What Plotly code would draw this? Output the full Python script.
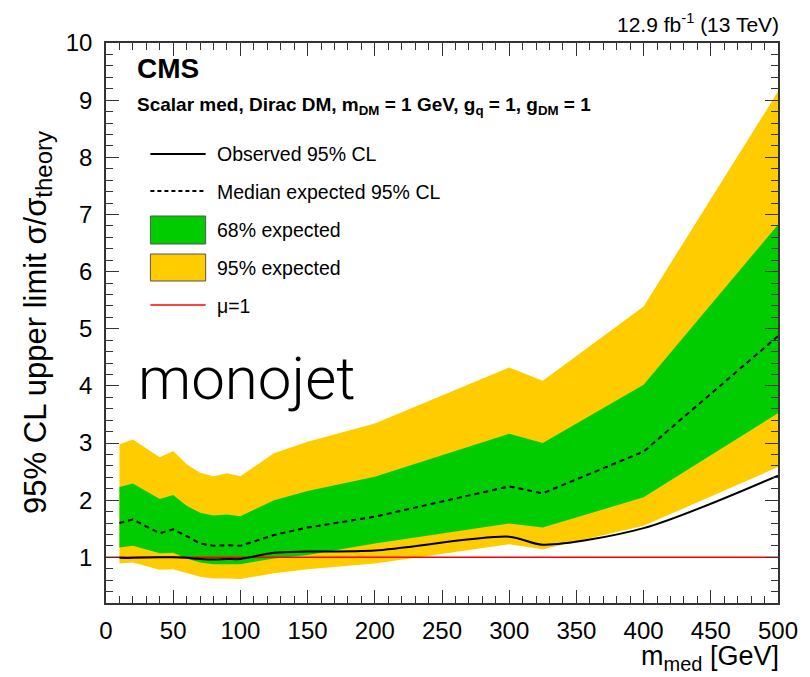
import plotly.graph_objects as go

# ---- data ----
mass = [10, 20, 40, 50, 60, 70, 80, 90, 100, 125, 150, 200, 300, 325, 400, 500]
exp_median = [1.60, 1.66, 1.42, 1.49, 1.37, 1.24, 1.20, 1.21, 1.20, 1.39, 1.52, 1.71, 2.24, 2.12, 2.85, 4.87]
exp_68_up = [2.23, 2.29, 2.02, 2.09, 1.90, 1.78, 1.73, 1.75, 1.72, 2.00, 2.16, 2.41, 3.16, 3.00, 4.02, 6.82]
exp_68_dn = [1.17, 1.20, 1.07, 1.08, 0.98, 0.91, 0.88, 0.88, 0.88, 0.98, 1.04, 1.24, 1.59, 1.52, 2.05, 3.52]
exp_95_up = [2.98, 3.06, 2.75, 2.86, 2.63, 2.48, 2.42, 2.47, 2.42, 2.82, 3.02, 3.34, 4.32, 4.09, 5.39, 9.15]
exp_95_dn = [0.89, 0.91, 0.78, 0.79, 0.72, 0.66, 0.63, 0.63, 0.62, 0.72, 0.79, 0.89, 1.23, 1.14, 1.55, 2.58]
observed = [0.99, 0.99, 1.00, 1.00, 0.99, 0.97, 0.96, 0.97, 0.97, 1.08, 1.10, 1.12, 1.36, 1.22, 1.51, 2.43]
mu_x = [0, 500]
mu_y = [1, 1]

YELLOW = "#FFCC00"
GREEN = "#00CC00"
FONT = "Liberation Sans"

fig = go.Figure()

# 95% band
fig.add_trace(go.Scatter(x=mass + mass[::-1], y=exp_95_up + exp_95_dn[::-1],
                         fill="toself", fillcolor=YELLOW, line=dict(width=0),
                         mode="lines", hoverinfo="skip", showlegend=False))
# 68% band
fig.add_trace(go.Scatter(x=mass + mass[::-1], y=exp_68_up + exp_68_dn[::-1],
                         fill="toself", fillcolor=GREEN, line=dict(width=0),
                         mode="lines", hoverinfo="skip", showlegend=False))
# median expected
fig.add_trace(go.Scatter(x=mass, y=exp_median, mode="lines",
                         line=dict(color="black", width=2, dash="5px,4px"),
                         showlegend=False))
# mu = 1
fig.add_trace(go.Scatter(x=mu_x, y=mu_y, mode="lines",
                         line=dict(color="#FF0000", width=1.6), showlegend=False))
# observed
fig.add_trace(go.Scatter(x=mass, y=observed, mode="lines",
                         line=dict(color="black", width=2, shape="spline", smoothing=0.8),
                         showlegend=False))

# pixel -> paper helpers (plot area: x 106..787, y 43..603)
L, R, T, B = 106, 787, 43, 603
def px(x):
    return (x - L) / (R - L)
def py(y):
    return (B - y) / (B - T)

ann = []
def text(t, x, y, size, xanchor="left", yanchor="middle", bold=False, angle=0,
         family=FONT, weight=None):
    f = dict(family=family, size=size, color="black")
    if weight is not None:
        f["weight"] = weight
    ann.append(dict(text=f"<b>{t}</b>" if bold else t, x=px(x), y=py(y), xref="paper", yref="paper",
                    xanchor=xanchor, yanchor=yanchor, showarrow=False, textangle=angle,
                    borderpad=0, font=f))

text("12.9 fb<sup>-1</sup> (13 TeV)", 789, 23, 21, xanchor="right")
text("CMS", 136, 69, 28, bold=True)
text("Scalar med, Dirac DM, m<sub>DM</sub> = 1 GeV, g<sub>q</sub> = 1, g<sub>DM</sub> = 1", 136, 106, 19, bold=True)
text("Observed 95% CL", 217, 154, 19.5)
text("Median expected 95% CL", 217, 192, 19.5)
text("68% expected", 217, 230, 19.5)
text("95% expected", 217, 268, 19.5)
text("μ=1", 217, 306, 19.5)
text("monojet", 137, 378, 60, family="Roboto", weight=300)
text("95% CL upper limit σ/σ<sub><span style='font-size:24px'>theory</span></sub>", 37, 322, 31,
     xanchor="center", angle=-90)
text("m<sub><span style='font-size:20px'>med</span></sub> [GeV]", 789, 676, 27,
     xanchor="right", yanchor="bottom")

shapes = []
def hline(x0, x1, y, color, width, dash="solid"):
    shapes.append(dict(type="line", xref="paper", yref="paper", x0=px(x0), x1=px(x1),
                       y0=py(y), y1=py(y), line=dict(color=color, width=width, dash=dash)))
def box(x0, x1, y0, y1, color):
    shapes.append(dict(type="rect", xref="paper", yref="paper", x0=px(x0), x1=px(x1),
                       y0=py(y1), y1=py(y0), fillcolor=color,
                       line=dict(color="#555555", width=1)))

hline(151, 207, 154, "black", 2)
hline(151, 207, 191, "black", 2, "4px,3px")
box(151, 207, 216, 244, GREEN)
box(151, 207, 254, 281, YELLOW)
hline(151, 207, 305, "#FF0000", 1.6)

axis_common = dict(showline=True, linecolor="#333333", linewidth=1.5, mirror="allticks",
                   ticks="inside", tickcolor="#333333", tickwidth=1.2, showgrid=False,
                   zeroline=False, tickfont=dict(family=FONT, size=24, color="black"))

fig.update_layout(
    width=810, height=677,
    margin=dict(l=L, r=810 - R, t=T, b=677 - B),
    paper_bgcolor="white", plot_bgcolor="white",
    xaxis=dict(range=[0, 500], dtick=50, tick0=0, ticklen=13,
               minor=dict(dtick=10, ticks="inside", ticklen=7, tickcolor="#333333", tickwidth=1.2),
               ticklabelstandoff=5, **axis_common),
    yaxis=dict(range=[0.2, 10], dtick=1, tick0=0, ticklen=13,
               minor=dict(dtick=0.2, ticks="inside", ticklen=7, tickcolor="#333333", tickwidth=1.2),
               ticklabelstandoff=7, **axis_common),
    annotations=ann, shapes=shapes, showlegend=False,
)

fig.write_html("out.html")
